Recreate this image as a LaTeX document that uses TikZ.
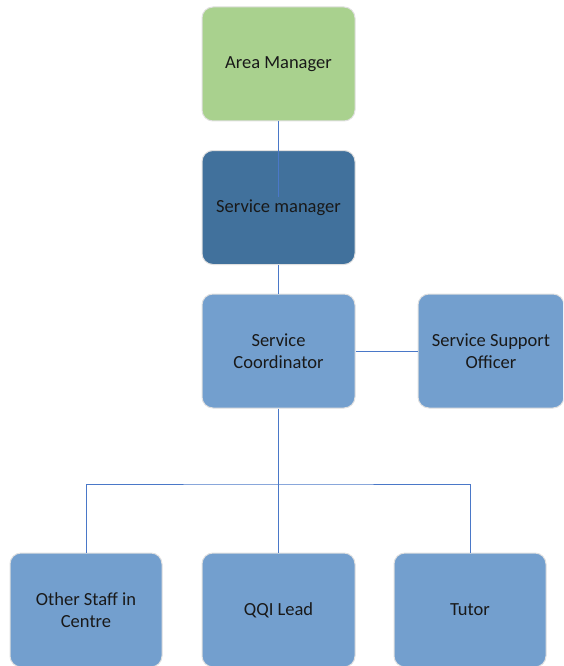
\documentclass[tikz,border=0pt]{standalone}
\usepackage{fontspec}
\setmainfont{Carlito}
\begin{document}
\begin{tikzpicture}[x=1pt,y=-1pt,
  labelfont/.style={font=\fontsize{18.5}{22}\selectfont, text=black!90},
  box/.style={rounded corners=11pt, draw=black!12, line width=1pt,
    minimum width=153pt, minimum height=114pt, align=center,
    labelfont, inner sep=0pt},
  greenbox/.style={box, fill=areagreen},
  darkbox/.style={box, fill=mgrblue},
  midbox/.style={box, fill=staffblue},
  link/.style={draw=linkblue, line width=0.9pt}]
\definecolor{areagreen}{HTML}{A9D18E}
\definecolor{mgrblue}{HTML}{41719C}
\definecolor{staffblue}{HTML}{739FCE}
\definecolor{linkblue}{HTML}{4A78C8}
\useasboundingbox (0,0) rectangle (563,666);
\clip (0,0) rectangle (563,666);

% upper chain
\node[greenbox] (area) at (278.5,64) {Area Manager};
\node[darkbox]  (smgr) at (278.5,207.5) {};
\draw[link] (area.south) -- (278.5,197);
\node[labelfont] (smgrlabel) at (smgr.center) {Service manager};

\node[midbox] (coord) at (278.5,351) {Service\\Coordinator};
\node[midbox, minimum width=146pt] (support) at (491,351) {Service Support\\Officer};

% lower row
\node[midbox, minimum width=152pt] (other) at (86,610) {Other Staff in\\Centre};
\node[midbox] (qqi) at (278.5,610) {QQI Lead};
\node[midbox, minimum width=152pt] (tutor) at (470,610) {Tutor};

% connectors
\coordinate (bar) at (278.5,484);
\draw[link] (smgr.south) -- (coord.north);
\draw[link] (coord.east) -- (support.west);
\draw[link] (coord.south) -- (qqi.north);
\draw[link] (other.north) |- (bar) -| (tutor.north);
\end{tikzpicture}
\end{document}
